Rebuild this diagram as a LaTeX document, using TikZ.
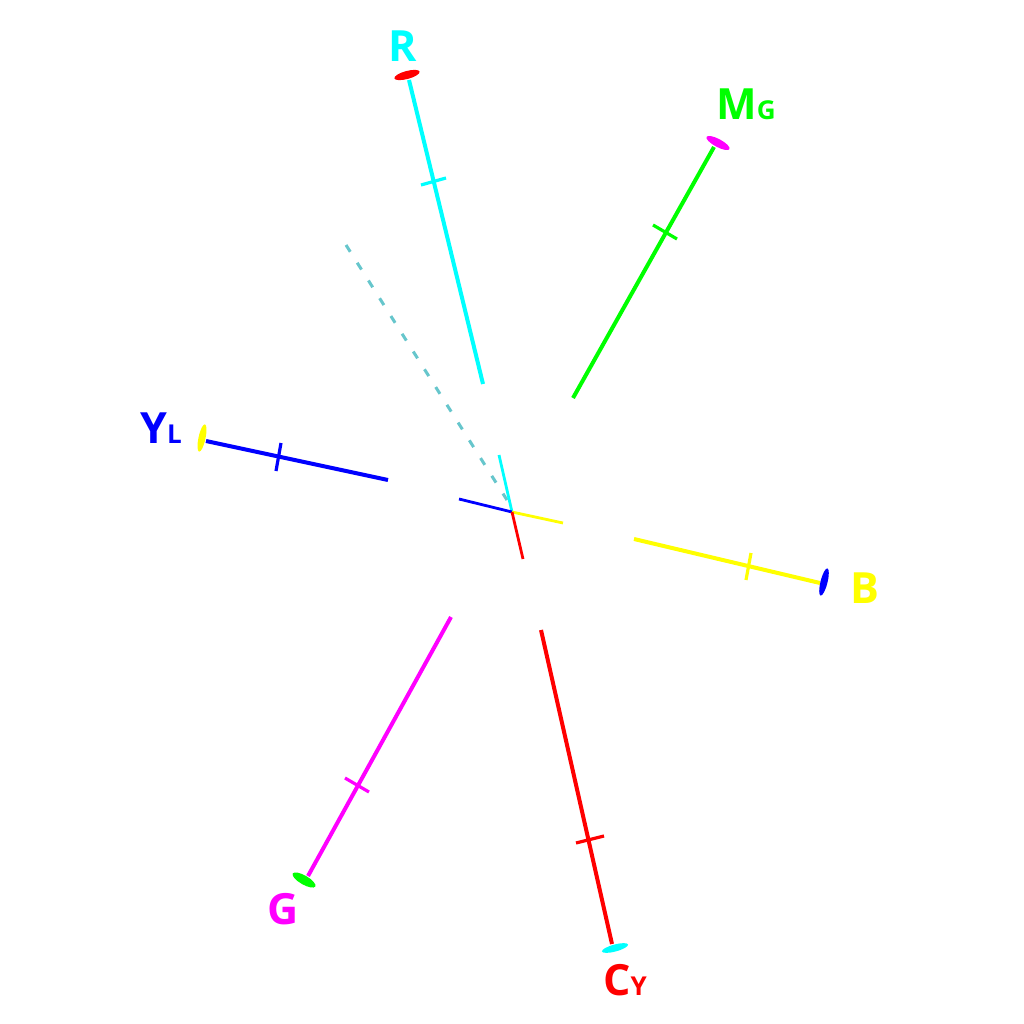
\documentclass[tikz,border=0pt]{standalone}
\usepackage{fontspec}
\setmainfont{Open Sans}
\usetikzlibrary{shapes.geometric}
\definecolor{cR}{RGB}{0,255,255}
\definecolor{cMg}{RGB}{0,255,0}
\definecolor{cYL}{RGB}{0,0,255}
\definecolor{cB}{RGB}{255,255,0}
\definecolor{cG}{RGB}{255,0,255}
\definecolor{cCy}{RGB}{255,0,0}
\definecolor{cDash}{RGB}{102,198,204}
\begin{document}
\begin{tikzpicture}[x=1pt,y=-1pt,
  axisline/.style={line width=4pt},
  innerline/.style={line width=2.8pt},
  tickmark/.style={line width=3.2pt},
  endcap/.style={ellipse, fill, inner sep=0pt, minimum width=26pt, minimum height=8pt},
  lbl/.style={font=\fontsize{43}{43}\selectfont\bfseries, inner sep=0pt},
]
\fill[white] (0,0) rectangle (1024,1024);
\useasboundingbox (0,0) rectangle (1024,1024);

\coordinate (O) at (512,512);
% dashed
\coordinate (D1) at (346,245);
\coordinate (D2) at (507,500);
\draw[cDash, line width=3pt, dash pattern=on 8pt off 13pt] (D1) -- (D2);

% R axis
\coordinate (Ri) at (499,455);
\coordinate (Ro1) at (483,384);
\coordinate (Ro2) at (409,80);
\coordinate (Rt1) at (421,185);
\coordinate (Rt2) at (446,178);
\draw[cR, innerline] (O) -- (Ri);
\draw[cR, axisline] (Ro1) -- (Ro2);
\draw[cR, tickmark] (Rt1) -- (Rt2);
\node[endcap, cCy, rotate=15] (Rcap) at (407,75) {};
\node[lbl, cR, anchor=base] (Rlab) at (403,62) {R};

% Mg axis
\coordinate (Mo1) at (573,398);
\coordinate (Mo2) at (714,147);
\coordinate (Mt1) at (653,225);
\coordinate (Mt2) at (677,239);
\draw[cMg, axisline] (Mo1) -- (Mo2);
\draw[cMg, tickmark] (Mt1) -- (Mt2);
\node[endcap, cG, rotate=-28] (Mcap) at (718,143) {};
\node[lbl, cMg, anchor=base west] (Mlab) at (716,120) {M\fontsize{26}{26}\selectfont G};

% YL axis
\coordinate (Yi) at (459,499);
\coordinate (Yo1) at (388,480);
\coordinate (Yo2) at (206,441);
\coordinate (Yt1) at (281,443);
\coordinate (Yt2) at (276,471);
\draw[cYL, innerline] (O) -- (Yi);
\draw[cYL, axisline] (Yo1) -- (Yo2);
\draw[cYL, tickmark] (Yt1) -- (Yt2);
\node[endcap, cB, rotate=78, minimum width=28pt, minimum height=7pt] (Ycap) at (202,438) {};
\node[lbl, cYL, anchor=base west] (Ylab) at (140,443) {Y\fontsize{26}{26}\selectfont L};

% B axis
\coordinate (Bi) at (563,523);
\coordinate (Bo1) at (634,539);
\coordinate (Bo2) at (820,583);
\coordinate (Bt1) at (751,553);
\coordinate (Bt2) at (746,580);
\draw[cB, innerline] (O) -- (Bi);
\draw[cB, axisline] (Bo1) -- (Bo2);
\draw[cB, tickmark] (Bt1) -- (Bt2);
\node[endcap, cYL, rotate=76, minimum width=28pt, minimum height=7pt] (Bcap) at (824,582) {};
\node[lbl, cB, anchor=base west] (Blab) at (850,603) {B};

% G axis
\coordinate (Go1) at (451,617);
\coordinate (Go2) at (308,876);
\coordinate (Gt1) at (345,778);
\coordinate (Gt2) at (369,792);
\draw[cG, axisline] (Go1) -- (Go2);
\draw[cG, tickmark] (Gt1) -- (Gt2);
\node[endcap, cMg, rotate=-30, minimum height=9pt] (Gcap) at (304,880) {};
\node[lbl, cG, anchor=base] (Glab) at (283,924) {G};

% Cy axis
\coordinate (Ci) at (523,559);
\coordinate (Co1) at (541,630);
\coordinate (Co2) at (612,944);
\coordinate (Ct1) at (576,843);
\coordinate (Ct2) at (604,836);
\draw[cCy, innerline] (O) -- (Ci);
\draw[cCy, axisline] (Co1) -- (Co2);
\draw[cCy, tickmark] (Ct1) -- (Ct2);
\node[endcap, cR, rotate=15, minimum width=27pt, minimum height=7pt] (Ccap) at (615,948) {};
\node[lbl, cCy, anchor=base west] (Clab) at (603,995) {C\fontsize{26}{26}\selectfont Y};
\end{tikzpicture}
\end{document}
